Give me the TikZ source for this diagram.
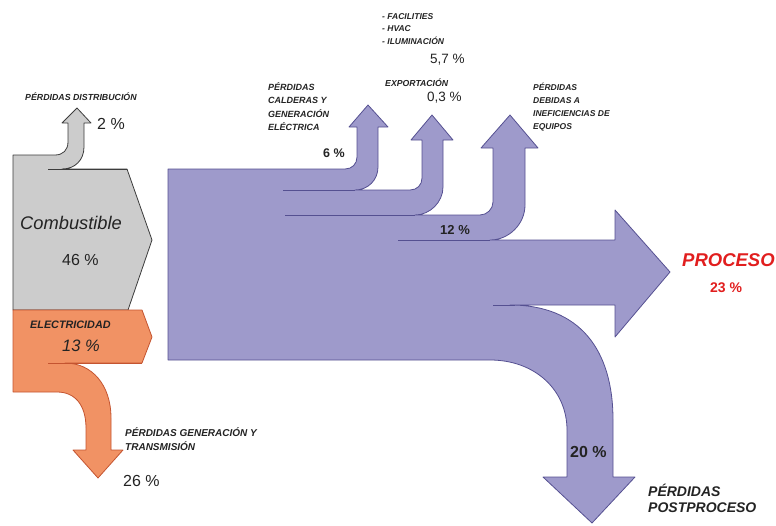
\documentclass[tikz,border=0pt]{standalone}
\usepackage{fontspec}
\setmainfont{Liberation Sans}
\definecolor{pfill}{RGB}{158,154,203}
\definecolor{pline}{RGB}{85,80,145}
\definecolor{gfill}{RGB}{204,204,204}
\definecolor{gline}{RGB}{60,60,60}
\definecolor{ofill}{RGB}{241,146,100}
\definecolor{oline}{RGB}{196,84,48}
\definecolor{txt}{RGB}{35,35,35}
\definecolor{redtxt}{RGB}{225,30,30}
\tikzset{
  grayflow/.style={fill=gfill, draw=gline, line width=0.8pt, line join=round},
  orangeflow/.style={fill=ofill, draw=oline, line width=0.8pt, line join=round},
  purpleflow/.style={fill=pfill, draw=pline, line width=0.8pt, line join=round},
  graysplit/.style={draw=gline, line width=0.9pt},
  orangesplit/.style={draw=oline, line width=0.9pt},
  purplesplit/.style={draw=pline, line width=0.9pt},
  lbl/.style={inner sep=0pt, anchor=west, text=txt},
  capsmall/.style={lbl, anchor=north west, align=left, font=\fontsize{8.5}{13}\selectfont\bfseries\itshape},
  pct/.style={lbl, font=\fontsize{13.5}{15}\selectfont},
  pctbig/.style={lbl, font=\fontsize{16}{18}\selectfont},
}
\begin{document}
\begin{tikzpicture}[x=1pt,y=-1pt]
\useasboundingbox (0,0) rectangle (776,525);

% gray: combustible
\path[grayflow] (13,155) -- (55,155) .. controls (63,155) and (68,150) .. (68,142)
  -- (68,123) -- (62,123) -- (77,108) -- (91,123) -- (84,123) -- (84,147)
  .. controls (84,160) and (75,169) .. (62,169) -- (127,169) -- (152,240) -- (128,310)
  -- (13,310) -- cycle;
\draw[graysplit] (48,169) -- (127,169);

% orange: electricidad
\path[orangeflow] (13,310) -- (142,310) -- (152,337) -- (142,363) -- (65,363)
  .. controls (92,363) and (111,385) .. (111,418) -- (111,450) -- (123,450) -- (98,478)
  -- (73,450) -- (86,450) -- (86,428) .. controls (86,405) and (75,392) .. (57,392)
  -- (13,392) -- cycle;
\draw[orangesplit] (48,363) -- (142,363);

% purple main flow
\path[purpleflow] (168,169) -- (345,169) .. controls (352,169) and (357,164) .. (357,157)
  -- (357,127) -- (349,127) -- (368,105) -- (388,127) -- (378,127) -- (378,167)
  .. controls (378,180) and (368,190) .. (355,190) -- (410,190)
  .. controls (417,190) and (422,185) .. (422,178) -- (422,140) -- (411,140) -- (432,115)
  -- (453,140) -- (443,140) -- (443,187) .. controls (443,202) and (430,215) .. (415,215)
  -- (480,215) .. controls (487,215) and (493,209) .. (493,202) -- (493,148) -- (481,148)
  -- (510,115) -- (538,148) -- (525,148) -- (525,205)
  .. controls (525,224) and (509,240) .. (490,240) -- (615,240) -- (615,210) -- (670,272)
  -- (615,337) -- (615,305) -- (510,305) .. controls (580,305) and (613,350) .. (613,420)
  -- (613,477) -- (635,477) -- (592,523) -- (543,477) -- (567,477) -- (567,430)
  .. controls (567,390) and (535,360) .. (490,360) -- (168,360) -- cycle;
\draw[purplesplit] (283,190) -- (355,190);
\draw[purplesplit] (285,215) -- (415,215);
\draw[purplesplit] (398,240) -- (490,240);
\draw[purplesplit] (493,305) -- (515,305);

% labels
\node[lbl, font=\fontsize{8.8}{10}\selectfont\bfseries\itshape] (tdist) at (25,97) {PÉRDIDAS DISTRIBUCIÓN};
\node[pctbig] (pdist) at (97,124) {2 \%};
\node[lbl, font=\fontsize{18.3}{21}\selectfont\itshape] (tcomb) at (20,223) {Combustible};
\node[pctbig] (pcomb) at (62,260) {46 \%};
\node[lbl, font=\fontsize{10.8}{12}\selectfont\bfseries\itshape] (telec) at (30,325) {ELECTRICIDAD};
\node[pctbig, font=\fontsize{16.5}{18}\selectfont\itshape] (pelec) at (62,346) {13 \%};
\node[capsmall, font=\fontsize{10}{14}\selectfont\bfseries\itshape] (tgen) at (125,427) {PÉRDIDAS GENERACIÓN Y\\TRANSMISIÓN};
\node[pctbig] (pgen) at (123,481) {26 \%};

\node[capsmall, font=\fontsize{8.5}{12.5}\selectfont\bfseries\itshape] (tfac) at (382,13) {- FACILITIES\\- HVAC\\- ILUMINACIÓN};
\node[pct] (pfac) at (430,60) {5,7 \%};
\node[lbl, font=\fontsize{8.7}{10}\selectfont\bfseries\itshape] (texp) at (385,83) {EXPORTACIÓN};
\node[pct] (pexp) at (427,98) {0,3 \%};
\node[capsmall, font=\fontsize{9}{13.5}\selectfont\bfseries\itshape] (tcal) at (268,82) {PÉRDIDAS\\CALDERAS Y\\GENERACIÓN\\ELÉCTRICA};
\node[pct, font=\fontsize{12.5}{14}\selectfont\bfseries] (pcal) at (323,153) {6 \%};
\node[capsmall] (tequ) at (533,83) {PÉRDIDAS\\DEBIDAS A\\INEFICIENCIAS DE\\EQUIPOS};
\node[pct, font=\fontsize{13}{15}\selectfont\bfseries] (pequ) at (440,230) {12 \%};

\node[lbl, text=redtxt, font=\fontsize{18.5}{21}\selectfont\bfseries\itshape] (tproc) at (682,260) {PROCESO};
\node[lbl, text=redtxt, font=\fontsize{14}{16}\selectfont\bfseries] (pproc) at (710,288) {23 \%};
\node[lbl, font=\fontsize{16}{18}\selectfont\bfseries] (ppost) at (570,452) {20 \%};
\node[capsmall, font=\fontsize{14}{16}\selectfont\bfseries\itshape] (tpost) at (648,484) {PÉRDIDAS\\POSTPROCESO};
\end{tikzpicture}
\end{document}
